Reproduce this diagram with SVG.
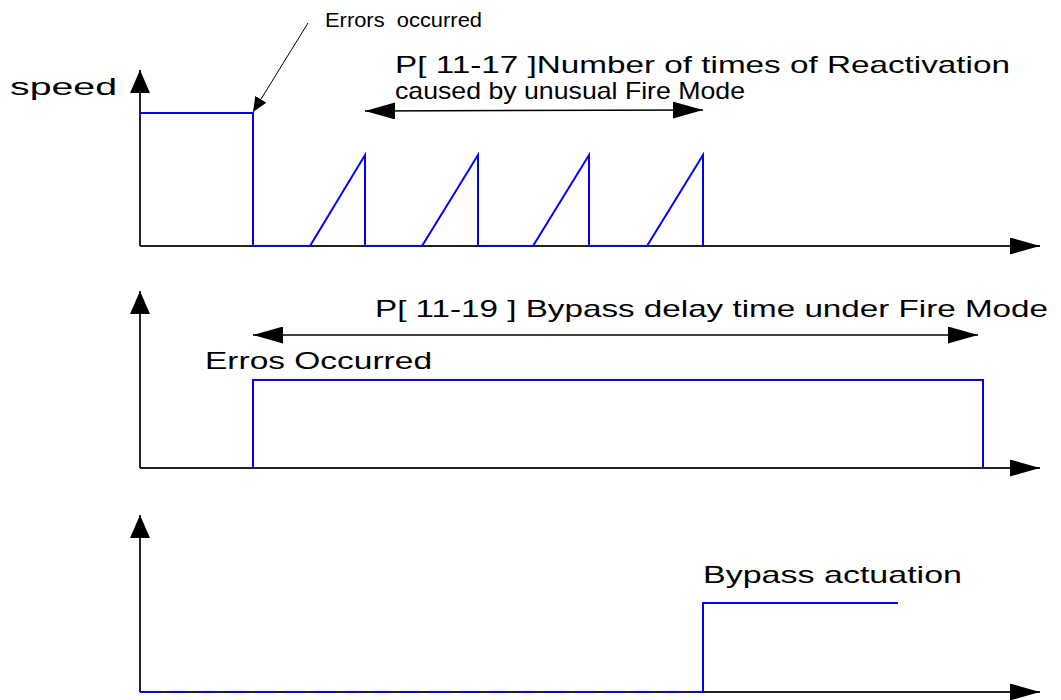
<svg xmlns="http://www.w3.org/2000/svg" width="1061" height="700" viewBox="0 0 1061 700">
<defs>
<style>
.ax{stroke:#222;stroke-width:2;fill:none}
.sig{stroke:#0000ff;stroke-width:2;fill:none;stroke-linejoin:miter}
.dim{stroke:#000;stroke-width:1.5;fill:none}
.ptr{stroke:#000;stroke-width:1;fill:none}
.t{font-family:"Liberation Sans",Arial,sans-serif;font-size:24px;fill:#000}
.s{font-size:24px}
.e{font-size:20px}
</style>
<marker id="ahx" viewBox="0 0 10 10" refX="10" refY="5" markerUnits="userSpaceOnUse" markerWidth="30" markerHeight="17" preserveAspectRatio="none" orient="auto-start-reverse"><path d="M0,0 L10,5 L0,10 z" fill="#000"/></marker>
<marker id="ahy" viewBox="0 0 10 10" refX="10" refY="5" markerUnits="userSpaceOnUse" markerWidth="23" markerHeight="20" preserveAspectRatio="none" orient="auto"><path d="M0,0 L10,5 L0,10 z" fill="#000"/></marker>
<marker id="ahp" viewBox="0 0 10 10" refX="10" refY="5" markerUnits="userSpaceOnUse" markerWidth="15" markerHeight="13" preserveAspectRatio="none" orient="auto"><path d="M0,0 L10,5 L0,10 z" fill="#000"/></marker>
</defs>
<rect width="1061" height="700" fill="#fff"/>
<g id="connectors">
<line class="ax" x1="140" y1="246" x2="140" y2="70" marker-end="url(#ahy)"/>
<line class="ax" x1="140" y1="246" x2="1040" y2="246" marker-end="url(#ahx)"/>
<line class="ax" x1="140" y1="468" x2="140" y2="291" marker-end="url(#ahy)"/>
<line class="ax" x1="140" y1="468" x2="1040" y2="468" marker-end="url(#ahx)"/>
<line class="ax" x1="140" y1="692" x2="140" y2="515" marker-end="url(#ahy)"/>
<line class="ax" x1="140" y1="692" x2="1040" y2="692" marker-end="url(#ahx)"/>
<line class="dim" x1="365" y1="111" x2="703" y2="110" marker-start="url(#ahx)" marker-end="url(#ahx)"/>
<line class="dim" x1="253" y1="335" x2="978" y2="335" marker-start="url(#ahx)" marker-end="url(#ahx)"/>
<line class="ptr" x1="308" y1="23" x2="253" y2="112" marker-end="url(#ahp)"/>
</g>
<g id="speed-signal">
<polyline class="sig" points="140,113 253,113 253,246 310,246 365,155 365,246 422,246 478,155 478,246 533,246 589,155 589,246 647,246 703,155 703,246"/>
</g>
<g id="error-signal">
<polyline class="sig" points="253,468 253,380 983,380 983,468"/>
</g>
<g id="bypass-signal">
<line class="sig" x1="140" y1="692" x2="703" y2="692" stroke-dasharray="19 10"/>
<polyline class="sig" points="703,692 703,603 898,603"/>
</g>
<g id="labels">
<text class="t s" x="10" y="95" textLength="107" lengthAdjust="spacingAndGlyphs">speed</text>
<text class="t e" x="325" y="27" textLength="157" lengthAdjust="spacingAndGlyphs" xml:space="preserve">Errors  occurred</text>
<text class="t" x="395" y="73" textLength="615" lengthAdjust="spacingAndGlyphs">P[ 11-17 ]Number of times of Reactivation</text>
<text class="t" x="395" y="99" textLength="350" lengthAdjust="spacingAndGlyphs">caused by unusual Fire Mode</text>
<text class="t" x="375" y="317" textLength="673" lengthAdjust="spacingAndGlyphs">P[ 11-19 ] Bypass delay time under Fire Mode</text>
<text class="t" x="205" y="369" textLength="227" lengthAdjust="spacingAndGlyphs">Erros Occurred</text>
<text class="t" x="703" y="583" textLength="259" lengthAdjust="spacingAndGlyphs">Bypass actuation</text>
</g>
</svg>
